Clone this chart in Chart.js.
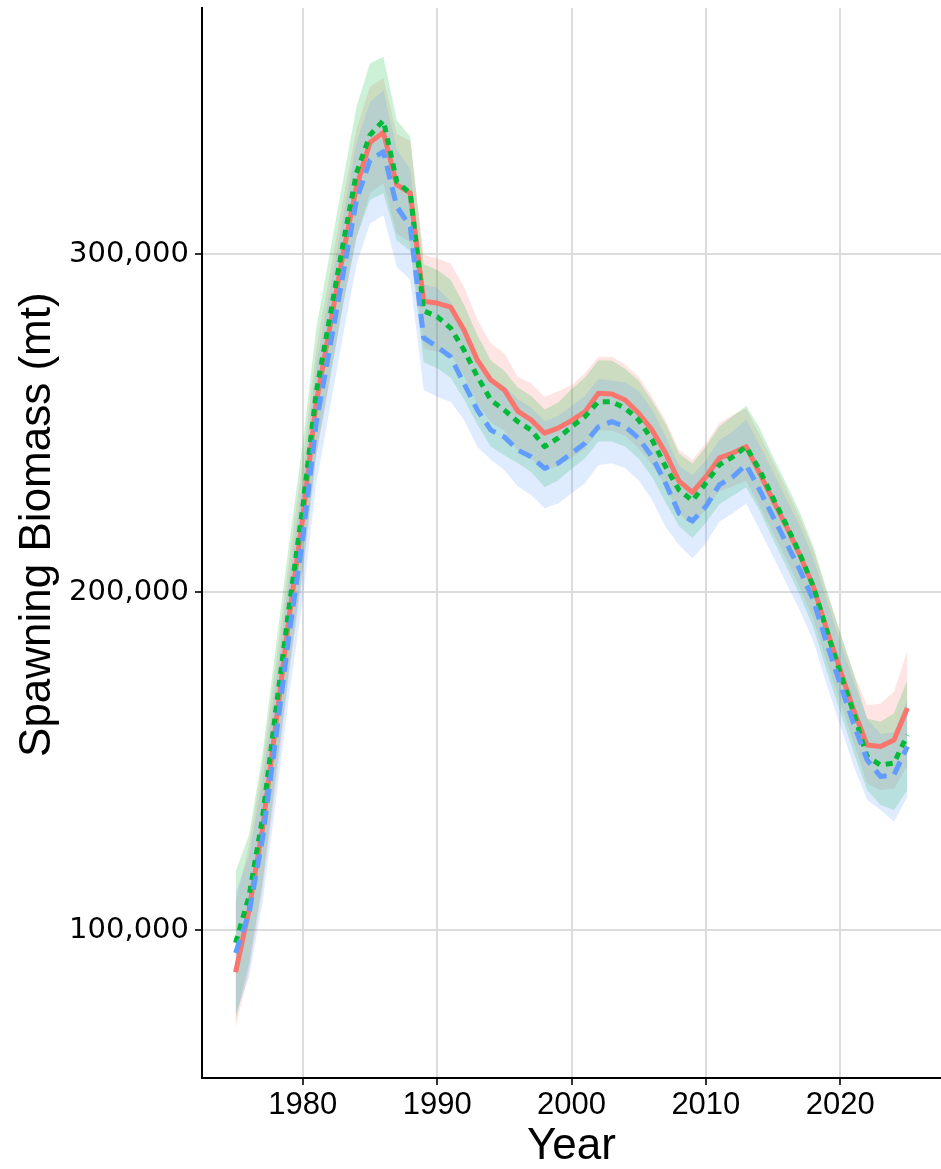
<!DOCTYPE html>
<html>
<head>
<meta charset="utf-8">
<script src="https://cdn.jsdelivr.net/npm/chart.js@4.4.1/dist/chart.umd.min.js"></script>
<style>
  html, body { margin: 0; padding: 0; background: #fff; }
  #wrap { width: 941px; height: 1169px; }
</style>
</head>
<body>
<div id="wrap"><canvas id="chart" width="941" height="1169"></canvas></div>
<script>
// values (spawning biomass, mt)
const years = [1975,1976,1977,1978,1979,1980,1981,1982,1983,1984,1985,1986,1987,1988,1989,1990,1991,1992,1993,1994,1995,1996,1997,1998,1999,2000,2001,2002,2003,2004,2005,2006,2007,2008,2009,2010,2011,2012,2013,2014,2015,2016,2017,2018,2019,2020,2021,2022,2023,2024,2025]

const redMid = [87500,106000,130000,161000,193000,222000,256000,278000,300000,320000,333000,336000,320500,318000,286000,285500,284300,277500,268600,262700,259800,253500,250900,247000,248500,250700,253300,258800,258600,256800,252900,247900,241100,232800,229500,234100,239600,241100,243000,235200,227200,219300,210900,201600,188800,176900,165100,154700,154300,156200,165700]
const redHi = [108000,125000,149000,179000,210000,239000,272000,294000,316000,337000,349500,352000,335500,333500,299700,298700,297200,290300,280500,273600,270600,263700,261700,257800,259300,261200,264700,269600,269600,267200,263700,257800,250900,242000,239100,244000,249900,252400,254300,246500,238500,230500,222000,212500,200000,187800,175800,166500,167000,170500,182800]
const redLo = [71000,88000,112000,143000,176000,205000,240000,262000,285000,305000,318000,321000,306000,303500,272000,271100,270300,264000,255600,250200,247800,241800,239500,235800,237300,239600,242300,247800,247800,246200,242500,237700,231200,223200,220000,224600,229800,231300,233000,225400,217500,209600,201300,192000,179300,167500,155500,143400,141400,141800,148700]

const greenMid = [96200,110000,133000,165000,196000,225000,259000,281000,303000,324000,335200,339500,321400,318000,283200,281500,278100,271600,263700,256800,253800,250400,247900,243000,245500,248900,251900,256300,256300,254400,250900,245000,237100,230200,227000,232200,237600,240000,243000,236100,227800,219800,211200,201600,188500,176000,164200,151300,148800,149400,157700]
const greenHi = [117300,128000,152000,184000,215000,244000,278000,300000,322000,343600,356400,358400,339600,334700,297000,295300,292500,285000,276000,268500,265500,260500,258000,254000,256000,260000,263500,268500,268500,266000,262500,256500,249800,241000,238000,243000,249000,252000,255000,248500,240000,232000,223500,213500,200500,188000,176000,162600,161600,164100,174000]
const greenLo = [73400,90000,114000,146000,178000,207000,241000,263000,285000,305000,316000,318000,304000,301000,268000,266200,263500,257000,249500,243000,240500,238200,235500,231000,233000,236500,239500,244500,244500,243000,239500,234000,226500,219500,216000,220500,226000,228500,231000,224000,215500,207500,199000,189500,176500,164500,152500,141400,137000,135500,141400]

const blueMid = [93200,105000,127000,157000,188000,216000,250000,272000,294000,316000,327800,330300,314000,308100,275200,272600,269600,261700,253800,247900,245900,242000,240000,236600,238100,241000,244000,248900,250400,248900,245500,240000,232200,223300,221000,225300,231700,234100,237600,230200,222300,214400,206500,197600,184800,172800,161000,150300,145400,145900,154300]
const blueHi = [111000,122000,144000,174000,205000,233000,267000,289000,311000,333000,345000,348500,331000,325000,291000,290000,286000,278000,269500,263000,261000,257000,254500,250500,252000,255000,258000,263000,262500,262000,259500,254000,246000,237500,234500,239000,245000,247500,251000,243500,235500,227500,219500,210000,197500,185500,173500,162500,158000,158500,168000]
const blueLo = [75000,86000,108000,138000,170000,198000,232000,254000,276000,297000,309000,311500,296200,292300,259800,257800,256300,250900,243000,239100,236100,231200,228700,224800,226200,229200,232200,237600,238100,236600,233100,227200,219300,213900,210000,214400,220800,223300,226200,218500,210500,202500,194500,185500,172500,160500,148500,138500,135500,132000,139500]

const xTicks = [1980, 1990, 2000, 2010, 2020]
const yTicks = [100000, 200000, 300000]

const RED = '#F8766D'
const GREEN = '#00BA38'
const BLUE = '#619CFF'

const pts = arr => years.map((x, i) => ({ x: x, y: arr[i] }))

// ribbon: upper dataset fills down to the next one (lower)
function band(hi, lo, color, order) {
  return [
    { data: pts(hi), borderWidth: 0, pointRadius: 0, fill: '+1', backgroundColor: color, order: order },
    { data: pts(lo), borderWidth: 0, pointRadius: 0, fill: false, order: order }
  ]
}

function line(arr, color, dash, order) {
  return {
    data: pts(arr), borderColor: color, borderWidth: 5, borderDash: dash,
    borderCapStyle: 'butt', borderJoinStyle: 'round',
    pointRadius: 0, fill: false, tension: 0, order: order
  }
}

const datasets = [
  ...band(redHi, redLo, 'rgba(248,118,109,0.2)', 5),
  ...band(greenHi, greenLo, 'rgba(0,186,56,0.2)', 4),
  ...band(blueHi, blueLo, 'rgba(97,156,255,0.2)', 3),
  line(redMid, RED, [], 2),
  line(greenMid, GREEN, [7, 6], 1),
  line(blueMid, BLUE, [14, 8], 0)
]

new Chart(document.getElementById('chart'), {
  type: 'line',
  data: { datasets: datasets },
  options: {
    responsive: false,
    animation: false,
    devicePixelRatio: 1,
    layout: { padding: { top: 8, right: 0, bottom: 0, left: 0 } },
    plugins: { legend: { display: false }, tooltip: { enabled: false } },
    scales: {
      x: {
        type: 'linear',
        min: 1972.5,
        max: 2027.5,
        afterBuildTicks: s => { s.ticks = xTicks.map(v => ({ value: v })) },
        afterFit: s => { s.height = 91; s.paddingLeft = 0; s.paddingRight = 0 },
        grid: { color: '#dcdcdc', lineWidth: 2, tickColor: '#333', tickLength: 7, tickWidth: 2 },
        border: { display: true, color: '#000', width: 2 },
        ticks: {
          color: '#000', padding: 2, maxRotation: 0,
          font: { family: 'Liberation Sans, Arial, sans-serif', size: 31 },
          callback: v => String(v)
        },
        title: {
          display: true, text: 'Year', color: '#000',
          font: { family: 'Liberation Sans, Arial, sans-serif', size: 44, lineHeight: 1 },
          padding: { top: 2, bottom: 0 }
        }
      },
      y: {
        type: 'linear',
        min: 56200,
        max: 372800,
        afterBuildTicks: s => { s.ticks = yTicks.map(v => ({ value: v })) },
        afterFit: s => { s.width = 202; s.paddingTop = 0; s.paddingBottom = 0 },
        grid: { color: '#dcdcdc', lineWidth: 2, tickColor: '#333', tickLength: 7, tickWidth: 2 },
        border: { display: true, color: '#000', width: 2 },
        ticks: {
          color: '#000', padding: 6,
          font: { family: 'DejaVu Sans, sans-serif', size: 29 },
          callback: v => v.toLocaleString('en-US')
        },
        title: {
          display: true, text: '   Spawning Biomass (mt)', color: '#000',
          font: { family: 'Liberation Sans, Arial, sans-serif', size: 44, lineHeight: 1 },
          padding: { top: 16, bottom: 0 }
        }
      }
    }
  }
})
</script>
</body>
</html>
